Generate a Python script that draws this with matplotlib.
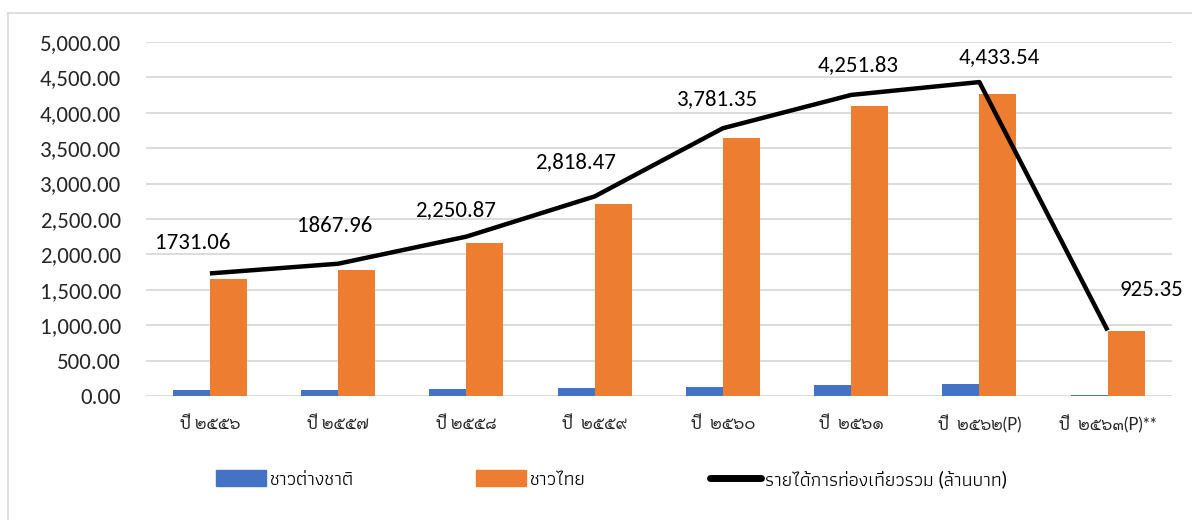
import matplotlib
matplotlib.use("Agg")
import matplotlib.pyplot as plt
from matplotlib import font_manager
from matplotlib.lines import Line2D
from matplotlib.patches import Patch
import numpy as np

# data (million baht)
years = ["ปี ๒๕๕๖", "ปี ๒๕๕๗", "ปี ๒๕๕๘", "ปี  ๒๕๕๙",
         "ปี  ๒๕๖๐", "ปี  ๒๕๖๑", "ปี  ๒๕๖๒(P)", "ปี  ๒๕๖๓(P)**"]
foreign = [78, 83, 94, 110, 133, 158, 165, 12]
thai = [1653, 1785, 2157, 2708, 3648, 4094, 4268, 913]
total = [1731.06, 1867.96, 2250.87, 2818.47, 3781.35, 4251.83, 4433.54, 925.35]
total_labels = ["1731.06", "1867.96", "2,250.87", "2,818.47",
                "3,781.35", "4,251.83", "4,433.54", "925.35"]
legend_names = ["ชาวต่างชาติ", "ชาวไทย", "รายได้การท่องเที่ยวรวม (ล้านบาท)"]

# label offsets in pixels (dx, dy) as placed in the original chart
label_off = [(-17, 30), (-3, 38), (-11, 27), (-19, 34),
             (-5, 29), (7, 30), (20, 25), (44, 40)]

available = {f.name for f in font_manager.fontManager.ttflist}


def pick(*names):
    fams = [n for n in names if n in available]
    return fams + ["DejaVu Sans"]


num_font = pick("Carlito", "Lato")
tick_font = pick("Lato", "Sarabun", "Noto Sans Thai Looped", "Noto Sans Thai")
leg_font = pick("Lato", "Athiti", "Noto Sans Thai", "Sarabun")

blue = "#4472C4"
orange = "#ED7D31"
grid_c = "#D9D9D9"
text_c = "#262626"

fig = plt.figure(figsize=(11.92, 5.2), dpi=100)
ax = fig.add_axes([0.1223, 0.2385, 0.8607, 0.6808])

x = np.arange(len(years))
w = 0.288
ax.bar(x - w / 2, foreign, w, color=blue, zorder=2)
ax.bar(x + w / 2, thai, w, color=orange, zorder=2)
ax.plot(x, total, color="black", lw=3.2, solid_joinstyle="round",
        solid_capstyle="butt", zorder=3)

for i, lab in enumerate(total_labels):
    ax.annotate(lab, (x[i], total[i]), xytext=label_off[i],
                textcoords="offset pixels", ha="center", va="center",
                fontsize=16.5, family=num_font, color="black", zorder=4)

ax.set_xlim(-0.5, len(years) - 0.5)
ax.set_ylim(0, 5000)
ax.set_yticks(np.arange(0, 5001, 500))
ax.set_yticklabels([f"{v:,.2f}" for v in np.arange(0, 5001, 500)],
                   family=num_font, fontsize=16.5, color=text_c)
ax.set_xticks(x)
ax.set_xticklabels(years, family=tick_font, fontsize=12, color=text_c)
ax.tick_params(axis="y", length=0, pad=18)
ax.tick_params(axis="x", length=0, pad=14)
ax.yaxis.grid(True, color=grid_c, lw=1.3, zorder=0)
ax.set_axisbelow(True)
for s in ax.spines.values():
    s.set_visible(False)

# legend (three entries spaced like the original)
handles = [Patch(color=blue), Patch(color=orange),
           Line2D([0], [0], color="black", lw=5, solid_capstyle="round")]
anchors = [0.181, 0.399, 0.596]
for h, name, ax_x in zip(handles, legend_names, anchors):
    fig.legend([h], [name], loc="center left", bbox_to_anchor=(ax_x, 0.079),
               frameon=False, prop={"family": leg_font, "size": 14},
               handlelength=2.6, handleheight=0.85, handletextpad=0.2,
               borderaxespad=0, borderpad=0)

# chart frame edges (left and top visible in the crop)
fig.add_artist(Line2D([8 / 1192, 8 / 1192], [0, 1 - 13 / 520],
                      transform=fig.transFigure, color=grid_c, lw=1.2))
fig.add_artist(Line2D([8 / 1192, 1], [1 - 13 / 520, 1 - 13 / 520],
                      transform=fig.transFigure, color=grid_c, lw=1.2))

fig.savefig("out.png", dpi=100)
